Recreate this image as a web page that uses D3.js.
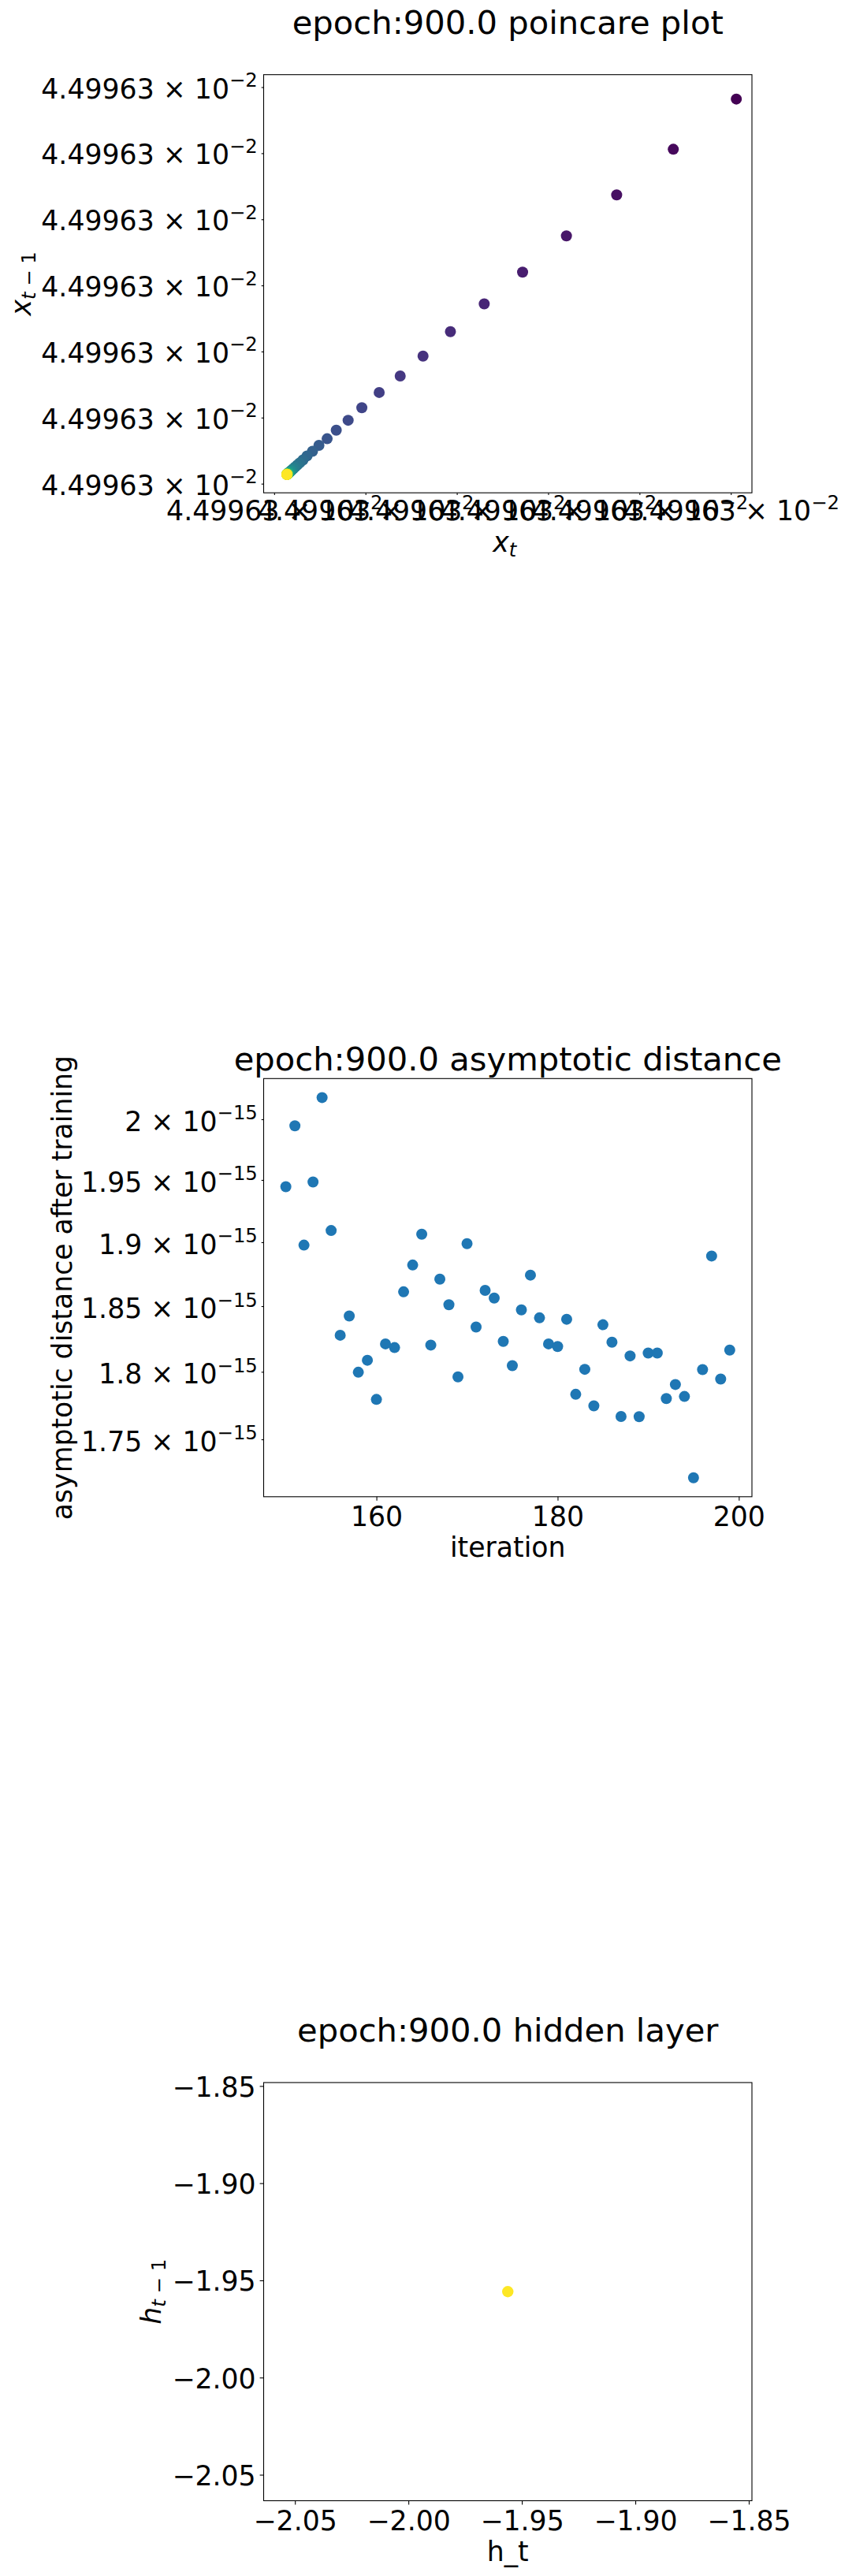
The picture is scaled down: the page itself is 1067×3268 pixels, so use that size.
<!DOCTYPE html>
<html>
<head>
<meta charset="utf-8">
<script src="https://cdn.jsdelivr.net/npm/d3@7"></script>
<style>
  body { margin: 0; background: #fff; }
  svg { display: block; }
  text { font-family: "DejaVu Sans", sans-serif; fill: #000; }
</style>
</head>
<body>
<svg id="fig"></svg>
<script>
// ---- data ----
// poincare plot: x_t sequence, offsets in tick steps above 4.49963e-2 (differences are ~1e-9)
const poincareSeq = [5.82, 5.06, 4.37, 3.75, 3.20, 2.72, 2.30, 1.93, 1.63, 1.38,
  1.15, 0.96, 0.81, 0.68, 0.58, 0.49, 0.42, 0.36, 0.316, 0.281,
  0.253, 0.230, 0.212, 0.198, 0.186, 0.177, 0.170, 0.164, 0.159, 0.156,
  0.153, 0.150, 0.149, 0.147, 0.146, 0.145, 0.144, 0.143, 0.1425, 0.142,
  0.1415, 0.141, 0.1408, 0.1406, 0.1404, 0.1403, 0.1402, 0.1401, 0.1401, 0.1400, 0.1400];
const poincareTicksX = [0, 1, 2, 3, 4, 5];
const poincareTicksY = [0, 1, 2, 3, 4, 5, 6];
const poincareTickText = ['4.49963 × 10', '−2'];
const poincareLimX = [-0.115, 5.231];
const poincareLimY = [-0.138, 6.189];

// asymptotic distance
const iterations = [150, 151, 152, 153, 154, 155, 156, 157, 158, 159,
  160, 161, 162, 163, 164, 165, 166, 167, 168, 169,
  170, 171, 172, 173, 174, 175, 176, 177, 178, 179,
  180, 181, 182, 183, 184, 185, 186, 187, 188, 189,
  190, 191, 192, 193, 194, 195, 196, 197, 198, 199];
const asymDist = [1.9445e-15, 1.9946e-15, 1.8977e-15, 1.9484e-15, 2.0182e-15, 1.9093e-15, 1.8277e-15, 1.8424e-15, 1.7997e-15, 1.8087e-15,
  1.7794e-15, 1.8211e-15, 1.8183e-15, 1.8611e-15, 1.8820e-15, 1.9064e-15, 1.8202e-15, 1.8710e-15, 1.8511e-15, 1.7962e-15,
  1.8989e-15, 1.8340e-15, 1.8622e-15, 1.8563e-15, 1.8230e-15, 1.8046e-15, 1.8471e-15, 1.8741e-15, 1.8410e-15, 1.8211e-15,
  1.8191e-15, 1.8399e-15, 1.7832e-15, 1.8019e-15, 1.7746e-15, 1.8357e-15, 1.8224e-15, 1.7668e-15, 1.8120e-15, 1.7666e-15,
  1.8142e-15, 1.8142e-15, 1.7800e-15, 1.7905e-15, 1.7816e-15, 1.7222e-15, 1.8017e-15, 1.8891e-15, 1.7946e-15, 1.8164e-15];
const iterTicks = [160, 180, 200];
const distTicks = [1.75e-15, 1.8e-15, 1.85e-15, 1.9e-15, 1.95e-15, 2e-15];
const distTickText = ['1.75', '1.8', '1.85', '1.9', '1.95', '2'];

// hidden layer
const hiddenX = [-1.9562];
const hiddenY = [-1.9558];
const hiddenTicks = [-2.05, -2.00, -1.95, -1.90, -1.85];

// ---- layout ----
const FW = 1067, FH = 3268;
const L = 334.5, W = 619.5, H = 530.5;
const tops = [94.7, 1368.3, 2642];
const FS = 34.7, TFS = 41.7, SFS = 24.3;
const cx = L + W / 2;

const svg = d3.select('#fig').attr('width', FW).attr('height', FH);

function panel(top) {
  return svg.append('g').attr('transform', `translate(${L},${top})`);
}

function frame(g) {
  g.append('rect')
    .attr('width', W).attr('height', H)
    .attr('fill', 'none').attr('stroke', '#000').attr('stroke-width', 1.1);
}

function styleAxis(a) {
  a.attr('font-size', FS).attr('font-family', '"DejaVu Sans", sans-serif');
  a.select('.domain').remove();
  a.selectAll('.tick line').attr('stroke', '#000').attr('stroke-width', 1.1);
  a.selectAll('.tick text').attr('fill', '#000');
}

function sciText(sel, base, exp) {
  sel.text(null);
  sel.append('tspan').text(base);
  sel.append('tspan').attr('dy', -14.5).attr('font-size', SFS).text(exp);
}

function title(y, txt) {
  svg.append('text').attr('x', cx).attr('y', y)
    .attr('text-anchor', 'middle').attr('font-size', TFS).text(txt);
}

// math label like x_t or x_{t - 1}
function mathLabel(x, y, main, sub, rotate) {
  const t = svg.append('text')
    .attr('text-anchor', 'middle').attr('font-size', FS)
    .attr('transform', rotate ? `translate(${x},${y}) rotate(-90)` : `translate(${x},${y})`);
  t.append('tspan').attr('font-style', 'italic').text(main);
  t.append('tspan').attr('font-style', 'italic').attr('font-size', SFS).attr('dy', 6).text('t');
  if (sub) t.append('tspan').attr('font-size', SFS).text(sub);
  return t;
}

function plainLabel(x, y, txt, rotate) {
  svg.append('text')
    .attr('text-anchor', 'middle').attr('font-size', FS)
    .attr('transform', rotate ? `translate(${x},${y}) rotate(-90)` : `translate(${x},${y})`)
    .text(txt);
}

// ---- 1: poincare plot ----
{
  const g = panel(tops[0]);
  const x = d3.scaleLinear().domain(poincareLimX).range([0, W]);
  const y = d3.scaleLinear().domain(poincareLimY).range([H, 0]);

  const pts = poincareSeq.slice(1).map((v, i) => ({ x: v, y: poincareSeq[i], i }));
  const n = pts.length;

  g.selectAll('circle').data(pts).enter().append('circle')
    .attr('cx', d => x(d.x)).attr('cy', d => y(d.y)).attr('r', 7)
    .attr('fill', d => d3.interpolateViridis(d.i / (n - 1)));

  const ax = g.append('g').attr('transform', `translate(0,${H})`)
    .call(d3.axisBottom(x).tickValues(poincareTicksX).tickSize(2.8));
  styleAxis(ax);
  ax.selectAll('.tick text').attr('y', 35).attr('dy', null)
    .each(function () { sciText(d3.select(this), poincareTickText[0], poincareTickText[1]); });

  const ay = g.append('g')
    .call(d3.axisLeft(y).tickValues(poincareTicksY).tickSize(2.8).tickPadding(4.9));
  styleAxis(ay);
  ay.selectAll('.tick text').attr('dy', null).attr('y', 13.5)
    .each(function () { sciText(d3.select(this), poincareTickText[0], poincareTickText[1]); });

  frame(g);
  title(42.7, 'epoch:900.0 poincare plot');
  mathLabel(cx - 4, 700, 'x', null, false);
  mathLabel(38.5, tops[0] + H / 2, 'x', ' − 1', true);
}

// ---- 2: asymptotic distance ----
{
  const g = panel(tops[1]);
  const ext = d3.extent(iterations);
  const pad = (ext[1] - ext[0]) * 0.05;
  const x = d3.scaleLinear().domain([ext[0] - pad, ext[1] + pad]).range([0, W]);
  const le = d3.extent(asymDist).map(Math.log10);
  const lp = (le[1] - le[0]) * 0.05;
  const y = d3.scaleLog().domain([10 ** (le[0] - lp), 10 ** (le[1] + lp)]).range([H, 0]);

  g.selectAll('circle').data(iterations).enter().append('circle')
    .attr('cx', d => x(d)).attr('cy', (d, i) => y(asymDist[i])).attr('r', 7)
    .attr('fill', '#1f77b4');

  const ax = g.append('g').attr('transform', `translate(0,${H})`)
    .call(d3.axisBottom(x).tickValues(iterTicks).tickSize(4.9).tickFormat(d3.format('d')));
  styleAxis(ax);
  ax.selectAll('.tick text').attr('y', 37.4).attr('dy', null);

  const ay = g.append('g')
    .call(d3.axisLeft(y).tickValues(distTicks).tickSize(2.8).tickPadding(4.9));
  styleAxis(ay);
  ay.selectAll('.tick text').attr('dy', null).attr('y', 14.5)
    .each(function (d, i) { sciText(d3.select(this), distTickText[i] + ' × 10', '−15'); });

  frame(g);
  title(1358, 'epoch:900.0 asymptotic distance');
  plainLabel(cx, 1975, 'iteration', false);
  plainLabel(91, tops[1] + H / 2, 'asymptotic distance after training', true);
}

// ---- 3: hidden layer ----
{
  const g = panel(tops[2]);
  const lim = v => {
    const e = Math.abs(v) * 0.05;
    const lo = v - e, hi = v + e, m = (hi - lo) * 0.05;
    return [lo - m, hi + m];
  };
  const x = d3.scaleLinear().domain(lim(hiddenX[0])).range([0, W]);
  const y = d3.scaleLinear().domain(lim(hiddenY[0])).range([H, 0]);

  g.selectAll('circle').data(hiddenX).enter().append('circle')
    .attr('cx', d => x(d)).attr('cy', (d, i) => y(hiddenY[i])).attr('r', 7.2)
    .attr('fill', '#fde725');

  const fmt = d3.format('.2f');
  const ax = g.append('g').attr('transform', `translate(0,${H})`)
    .call(d3.axisBottom(x).tickValues(hiddenTicks).tickSize(4.9).tickFormat(fmt));
  styleAxis(ax);
  ax.selectAll('.tick text').attr('y', 37.4).attr('dy', null);

  const ay = g.append('g')
    .call(d3.axisLeft(y).tickValues(hiddenTicks).tickSize(4.9).tickPadding(4.9).tickFormat(fmt));
  styleAxis(ay);
  ay.selectAll('.tick text').attr('dy', '0.37em');

  frame(g);
  title(2590, 'epoch:900.0 hidden layer');
  plainLabel(cx, 3249, 'h_t', false);
  mathLabel(204, tops[2] + H / 2, 'h', ' − 1', true);
}
</script>
</body>
</html>
